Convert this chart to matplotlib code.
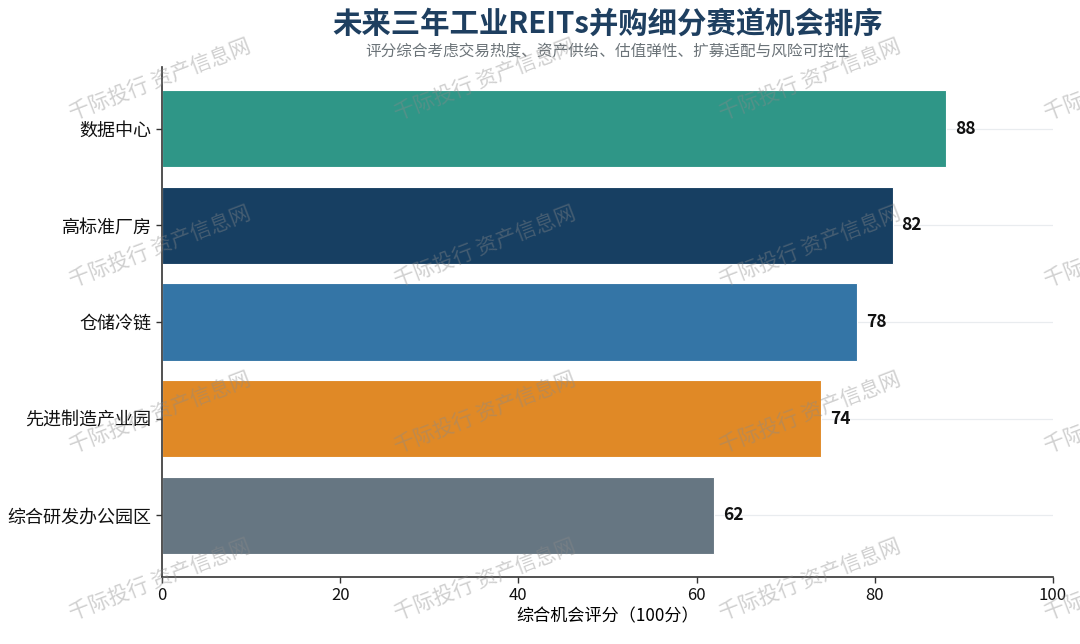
import matplotlib
matplotlib.use("Agg")
import matplotlib.pyplot as plt

plt.rcParams['font.family'] = ['Noto Sans CJK SC', 'DejaVu Sans']

categories = ["数据中心", "高标准厂房", "仓储冷链", "先进制造产业园", "综合研发办公园区"]
scores = [88, 82, 78, 74, 62]
colors = ["#2F9687", "#173F62", "#3475A6", "#E08926", "#667682"]
xticks = [0, 20, 40, 60, 80, 100]

title = "未来三年工业REITs并购细分赛道机会排序"
subtitle = "评分综合考虑交易热度、资产供给、估值弹性、扩募适配与风险可控性"
xlabel = "综合机会评分（100分）"
watermark = "千际投行 资产信息网"

fig = plt.figure(figsize=(10.8, 6.44), dpi=100)
ax = fig.add_axes([0.15, 0.104, 0.825, 0.792])

ypos = list(range(len(categories)))
ax.barh(ypos, scores, height=0.8, color=colors, edgecolor="white", linewidth=0.8, zorder=2)
ax.set_yticks(ypos)
ax.set_yticklabels(categories, fontsize=13)
ax.invert_yaxis()
ax.set_xlim(0, 100)
ax.set_xticks(xticks)
ax.set_xticklabels([str(v) for v in xticks], fontsize=12)
ax.set_xlabel(xlabel, fontsize=12.3, labelpad=2)

for y, v in zip(ypos, scores):
    ax.text(v + 1, y, str(v), va="center", ha="left", fontsize=12.5,
            fontweight="bold", color="#111111", zorder=4)

ax.grid(axis="y", color="#cfd6dc", alpha=0.45, linewidth=0.9, zorder=3)
ax.grid(axis="x", visible=False)
for s in ["top", "right"]:
    ax.spines[s].set_visible(False)
for s in ["left", "bottom"]:
    ax.spines[s].set_color("#333333")
    ax.spines[s].set_linewidth(1.2)
ax.tick_params(axis="both", colors="#333333", labelcolor="#111111", length=4, width=1)

fig.text(0.5625, 1 - 25 / 644, title, ha="center", va="center", fontsize=21.2,
         fontweight="bold", color="#1E3F60")
fig.text(0.5625, 1 - 52 / 644, subtitle, ha="center", va="center", fontsize=11.25,
         color="#6b7378")

wm_x = [160, 485, 810, 1135]
wm_y = [80, 247, 413, 580]
for cx in wm_x:
    for cy in wm_y:
        fig.text(cx / 1080, 1 - cy / 644, watermark, ha="center", va="center",
                 rotation=21, rotation_mode="anchor", fontsize=15,
                 color="#8a8a8a", alpha=0.4, zorder=10)

fig.savefig("out.png", dpi=100)
